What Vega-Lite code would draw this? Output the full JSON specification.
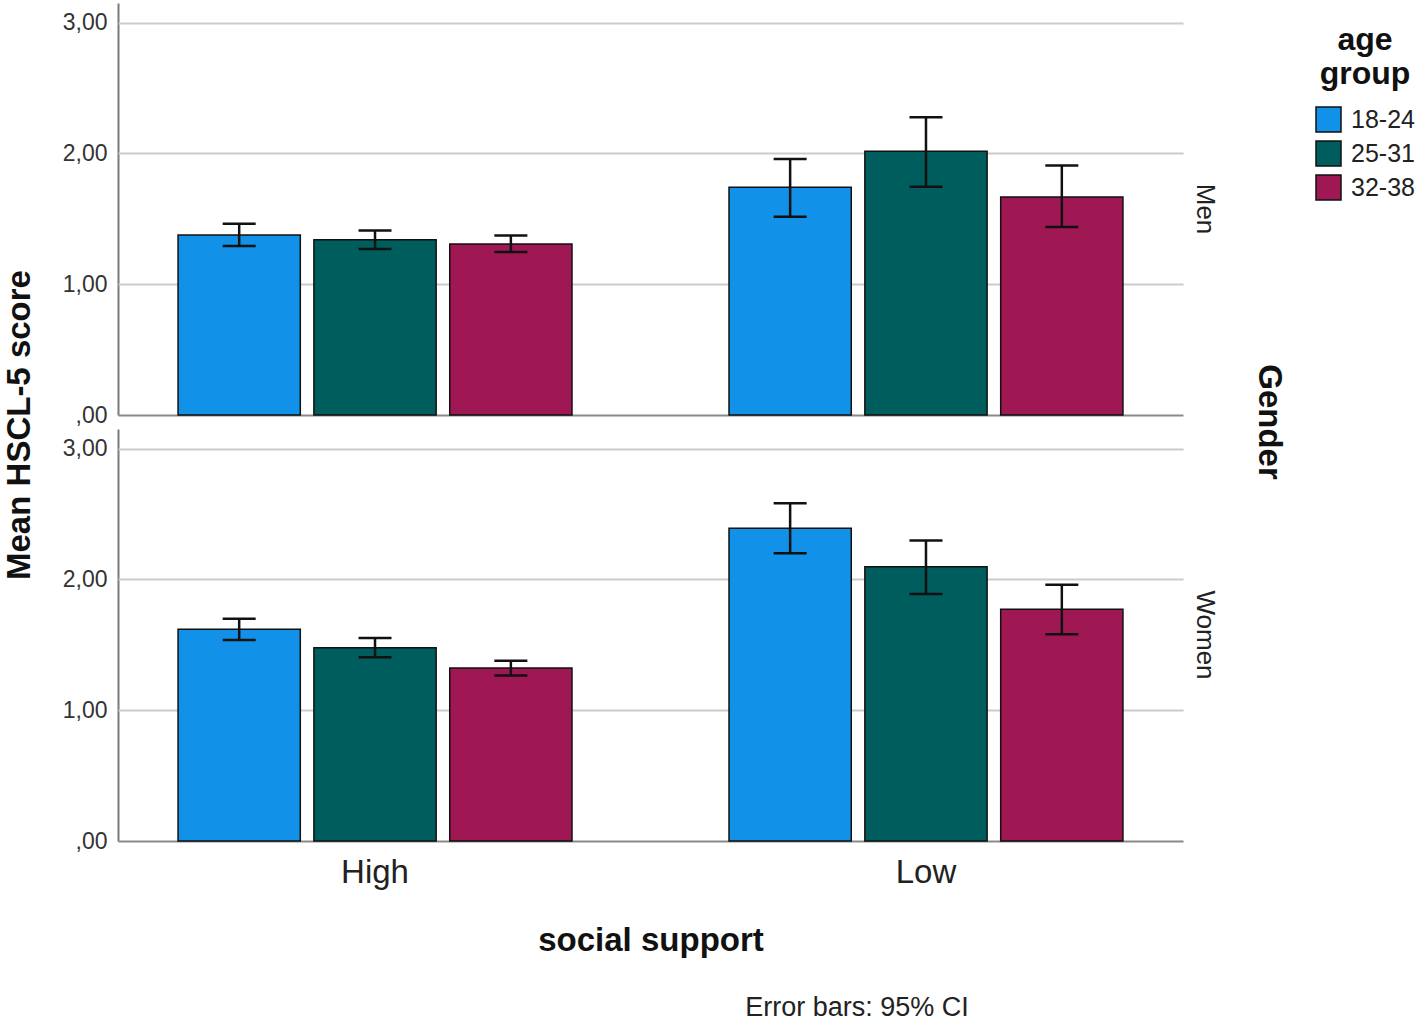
{
  "$schema": "https://vega.github.io/schema/vega-lite/v6.json",
  "background": "white",
  "padding": {"left": 4, "right": 2, "top": 3, "bottom": 0},
  "config": {
    "font": "Liberation Sans",
    "view": {"stroke": null},
    "axisY": {
      "domain": true,
      "domainColor": "#7a7a7a",
      "domainWidth": 2,
      "ticks": false,
      "grid": true,
      "gridColor": {"condition": {"test": "datum.value === 0", "value": "#8a8a8a"}, "value": "#cccccc"},
      "gridWidth": 2,
      "labelFontSize": 23,
      "labelColor": "#333333",
      "labelPadding": 11
    },
    "axisX": {
      "domain": false,
      "ticks": false,
      "grid": false,
      "labelFontSize": 33,
      "labelColor": "#222222",
      "labelPadding": 14,
      "titleFontSize": 33,
      "titleFontWeight": "bold",
      "titleColor": "#111111",
      "titlePadding": 35
    }
  },
  "title": {
    "text": "Error bars: 95% CI",
    "orient": "bottom",
    "anchor": "start",
    "frame": "bounds",
    "dx": 741,
    "offset": 38,
    "fontSize": 27,
    "fontWeight": "normal",
    "color": "#222222"
  },
  "vconcat": [
    {
      "title": {
        "text": "Mean HSCL-5 score",
        "orient": "left",
        "anchor": "middle",
        "frame": "bounds",
        "dx": 55,
        "offset": 25,
        "fontSize": 33,
        "fontWeight": "bold",
        "color": "#111111"
      },
      "data": {
        "values": [
          {"gender": "Men", "support": "High", "age": "18-24", "mean": 1.376, "lo": 1.292, "hi": 1.462},
          {"gender": "Men", "support": "High", "age": "25-31", "mean": 1.340, "lo": 1.269, "hi": 1.411},
          {"gender": "Men", "support": "High", "age": "32-38", "mean": 1.307, "lo": 1.246, "hi": 1.373},
          {"gender": "Men", "support": "Low", "age": "18-24", "mean": 1.741, "lo": 1.516, "hi": 1.958},
          {"gender": "Men", "support": "Low", "age": "25-31", "mean": 2.016, "lo": 1.746, "hi": 2.277},
          {"gender": "Men", "support": "Low", "age": "32-38", "mean": 1.667, "lo": 1.437, "hi": 1.907},
          {"gender": "Women", "support": "High", "age": "18-24", "mean": 1.619, "lo": 1.537, "hi": 1.700},
          {"gender": "Women", "support": "High", "age": "25-31", "mean": 1.478, "lo": 1.404, "hi": 1.552},
          {"gender": "Women", "support": "High", "age": "32-38", "mean": 1.322, "lo": 1.266, "hi": 1.378},
          {"gender": "Women", "support": "Low", "age": "18-24", "mean": 2.392, "lo": 2.200, "hi": 2.583},
          {"gender": "Women", "support": "Low", "age": "25-31", "mean": 2.096, "lo": 1.889, "hi": 2.297},
          {"gender": "Women", "support": "Low", "age": "32-38", "mean": 1.772, "lo": 1.580, "hi": 1.960}
        ]
      },
      "facet": {
        "row": {
          "field": "gender",
          "type": "nominal",
          "sort": ["Men", "Women"],
          "title": "Gender",
          "header": {
            "labelOrient": "right",
            "labelAngle": 90,
            "labelFontSize": 26,
            "labelColor": "#222222",
            "labelPadding": 9,
            "titleOrient": "right",
            "titleAngle": 90,
            "titleFontSize": 33,
            "titleFontWeight": "bold",
            "titleColor": "#111111",
            "titlePadding": 24
          }
        }
      },
      "spacing": 13,
      "spec": {
        "width": 1065,
        "height": 412,
        "encoding": {
          "x": {
            "field": "support",
            "type": "nominal",
            "sort": ["High", "Low"],
            "title": "social support",
            "scale": {"paddingInner": 0.285, "paddingOuter": 0.109},
            "axis": {"labelAngle": 0}
          },
          "xOffset": {
            "field": "age",
            "type": "nominal",
            "sort": ["18-24", "25-31", "32-38"],
            "scale": {"paddingInner": 0.1, "paddingOuter": 0}
          }
        },
        "layer": [
          {
            "mark": {"type": "bar", "stroke": "#111111", "strokeWidth": 1.5},
            "encoding": {
              "y": {
                "field": "mean",
                "type": "quantitative",
                "title": null,
                "scale": {"domain": [0, 3.15], "nice": false},
                "axis": {
                  "values": [0, 1, 2, 3],
                  "labelExpr": "datum.value === 0 ? ',00' : replace(format(datum.value, '.2f'), '.', ',')"
                }
              },
              "color": {
                "field": "age",
                "type": "nominal",
                "sort": ["18-24", "25-31", "32-38"],
                "scale": {"domain": ["18-24", "25-31", "32-38"], "range": ["#1192e8", "#005d5d", "#9f1853"]},
                "legend": {
                  "title": ["age", "group"],
                  "orient": "right",
                  "offset": 8,
                  "padding": 22,
                  "titleFontSize": 32,
                  "titleFontWeight": "bold",
                  "titleColor": "#111111",
                  "titleAnchor": "middle",
                  "titleAlign": "center",
                  "titleLineHeight": 34,
                  "titlePadding": 15,
                  "labelFontSize": 25,
                  "labelColor": "#222222",
                  "labelOffset": 9,
                  "symbolType": "square",
                  "symbolSize": 625,
                  "symbolStrokeColor": "#111111",
                  "symbolStrokeWidth": 1.5,
                  "symbolOpacity": 1,
                  "rowPadding": 3
                }
              }
            }
          },
          {
            "mark": {"type": "rule", "color": "#111111", "strokeWidth": 2.5},
            "encoding": {
              "y": {"field": "lo", "type": "quantitative", "title": null},
              "y2": {"field": "hi"}
            }
          },
          {
            "mark": {"type": "tick", "color": "#111111", "thickness": 2.5, "size": 33, "opacity": 1},
            "encoding": {
              "y": {"field": "lo", "type": "quantitative", "title": null}
            }
          },
          {
            "mark": {"type": "tick", "color": "#111111", "thickness": 2.5, "size": 33, "opacity": 1},
            "encoding": {
              "y": {"field": "hi", "type": "quantitative", "title": null}
            }
          }
        ]
      }
    }
  ]
}
